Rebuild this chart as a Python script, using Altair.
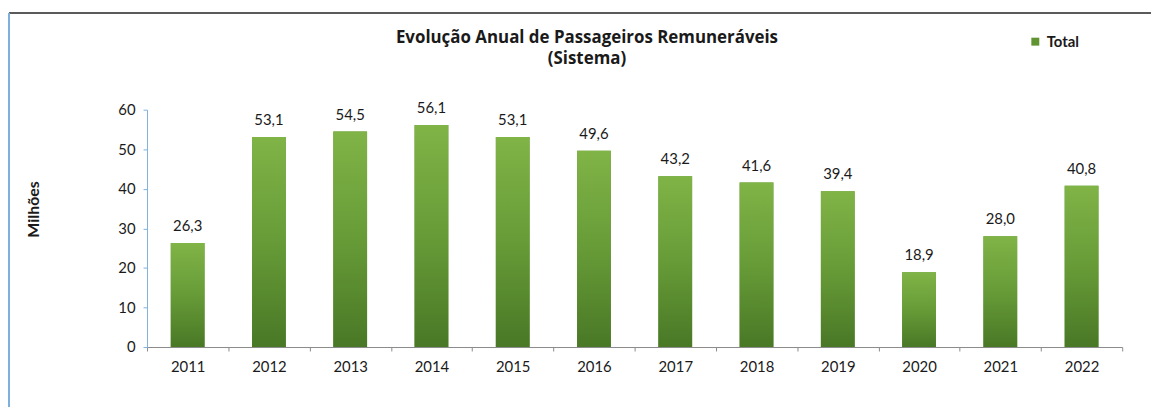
import altair as alt
import pandas as pd

anos = ["2011", "2012", "2013", "2014", "2015", "2016", "2017", "2018", "2019", "2020", "2021", "2022"]
valores = [26.3, 53.1, 54.5, 56.1, 53.1, 49.6, 43.2, 41.6, 39.4, 18.9, 28.0, 40.8]
serie = "Total"
titulo = ["Evolução  Anual de Passageiros Remuneráveis", "(Sistema)"]
eixo_y = "Milhões"

df = pd.DataFrame({
    "ano": anos,
    "valor": valores,
    "serie": [serie] * len(anos),
    "rotulo": [f"{v:.1f}".replace(".", ",") for v in valores],
})
df_titulo = pd.DataFrame({"linha": titulo, "ordem": [0, 1]})

FONT = "Lato"
TFONT = "Open Sans"
W, H = 982, 239

grad = alt.Gradient(
    gradient="linear",
    stops=[alt.GradientStop(color="#80b447", offset=0),
           alt.GradientStop(color="#679b37", offset=0.5),
           alt.GradientStop(color="#497826", offset=1)],
    x1=0, x2=0, y1=0, y2=1,
)

x_enc = alt.X("ano:N", sort=anos, title=None,
              scale=alt.Scale(paddingInner=0.0, paddingOuter=0.0),
              axis=alt.Axis(labelAngle=0, labelFont=FONT, labelFontSize=15, labelColor="#1a1a1a",
                            domainColor="#8a8a8a", tickColor="#8a8a8a", tickSize=4,
                            tickBand="extent", labelPadding=9, grid=False))
y_enc = alt.Y("valor:Q", title=eixo_y,
              scale=alt.Scale(domain=[0, 60], nice=False),
              axis=alt.Axis(values=[0, 10, 20, 30, 40, 50, 60], grid=False,
                            labelFont=FONT, labelFontSize=15, labelColor="#1a1a1a",
                            domainColor="#7fb0dd", tickColor="#7fb0dd", tickSize=4, labelPadding=8,
                            titleFont=FONT, titleFontSize=16, titleFontWeight="bold", titleColor="#1a1a1a",
                            titleAngle=-90, titleX=-114, titleY=100, titleAlign="center",
                            titleBaseline="middle"))

base = alt.Chart(df)

legend_bars = base.mark_bar(size=34).encode(
    x=x_enc, y=y_enc,
    color=alt.Color("serie:N", scale=alt.Scale(range=["#5f9431"]),
                    legend=alt.Legend(title=None, orient="none", legendX=887, legendY=-76,
                                      symbolType="square", symbolSize=64, symbolStrokeWidth=0,
                                      labelFont=FONT, labelFontSize=15, labelFontWeight="bold",
                                      labelColor="#1a1a1a", labelOffset=4)),
)

bars = base.mark_bar(size=34, color=grad).encode(x=x_enc, y=y_enc)

labels = base.mark_text(baseline="bottom", dy=-9, font=FONT, fontSize=15, color="#1a1a1a").encode(
    x=x_enc, y=y_enc, text="rotulo:N")


def title_line(idx, ypos):
    return alt.Chart(df_titulo).transform_filter(alt.datum.ordem == idx).mark_text(
        font=TFONT, fontSize=17, fontWeight="bold", color="#1a1a1a",
        baseline="alphabetic", align="center"
    ).encode(x=alt.value(443), y=alt.value(ypos), text="linha:N")


title1 = title_line(0, -67)
title2 = title_line(1, -46)

frame_top = base.mark_rule(color="#5a5a5a", strokeWidth=1.5).encode(
    x=alt.value(-139), x2=alt.value(1011), y=alt.value(-97))
frame_left = base.mark_rule(color="#7fb0dd", strokeWidth=1.5).encode(
    x=alt.value(-139), y=alt.value(-97), y2=alt.value(300))

chart = alt.layer(legend_bars, bars, labels, title1, title2, frame_top, frame_left).properties(
    width=W, height=H,
    autosize=alt.AutoSizeParams(type="none"),
    padding={"left": 140, "top": 101, "right": 29, "bottom": 59},
    background="white",
).configure_view(stroke=None)

chart.save("out.html", embed_options={"renderer": "svg", "actions": False})
